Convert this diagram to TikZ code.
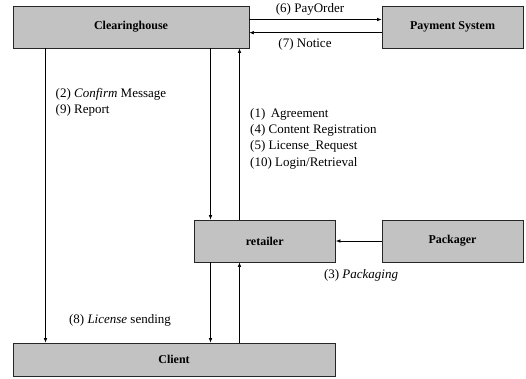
\documentclass[tikz,border=0pt]{standalone}
\usepackage{fontspec}
\setmainfont{Liberation Serif}
\usetikzlibrary{positioning,arrows.meta}

\begin{document}
\begin{tikzpicture}[>={Latex[length=4.5pt,width=3.5pt]},x=1pt,y=-1pt,
  unit/.style={draw=black!85,line width=0.7pt,fill=black!24,inner sep=0pt,
    font=\bfseries\fontsize{12}{14}\selectfont},
  lbl/.style={inner sep=0pt,align=left,font=\fontsize{13}{16.3}\selectfont},
  flow/.style={->,line width=0.6pt}]
  \useasboundingbox (0,0) rectangle (526,379);
  \node[unit,minimum width=236pt,minimum height=42pt] (clear) at (131,27) {Clearinghouse};
  \node[unit,minimum width=141pt,minimum height=42pt] (pay) at (452.5,27) {Payment System};
  \node[unit,minimum width=141.5pt,minimum height=42pt] (retailer) at (264.75,241) {retailer};
  \node[unit,minimum width=141pt,minimum height=42pt] (pack) at (452.5,241) {Packager};
  \node[unit,minimum width=322pt,minimum height=33pt] (client) at (174,359.5) {Client};
  \coordinate (xl) at (45.5,0);
  \coordinate (xd) at (210.5,0);
  \coordinate (xu) at (239.5,0);
  \draw[flow] ([yshift=7.5pt]clear.east) -- ([yshift=7.5pt]pay.west);
  \draw[flow] ([yshift=-5.7pt]pay.west) -- ([yshift=-5.7pt]clear.east);
  \draw[flow] (clear.south -| xl) -- (client.north -| xl);
  \draw[flow] (clear.south -| xd) -- (retailer.north -| xd);
  \draw[flow] (retailer.north -| xu) -- (clear.south -| xu);
  \draw[flow] (pack) -- (retailer);
  \draw[flow] (retailer.south -| xd) -- (client.north -| xd);
  \draw[flow] (client.north -| xu) -- (retailer.south -| xu);
  \node[lbl] (payorder) at (310,9.5) {(6) PayOrder};
  \node[lbl] (notice) at (305,44) {(7) Notice};
  \node[lbl,anchor=north west] (confirm) at (55.5,88) {(2) \textit{Confirm} Message\\(9) Report};
  \node[lbl,anchor=north west] (agree) at (250,108) {(1)\, Agreement\\(4) Content Registration\\(5) License\_Request\\(10) Login/Retrieval};
  \node[lbl] (packaging) at (361,275) {(3) \textit{Packaging}};
  \node[lbl] (sending) at (120,320) {(8) \textit{License} sending};
\end{tikzpicture}
\end{document}
